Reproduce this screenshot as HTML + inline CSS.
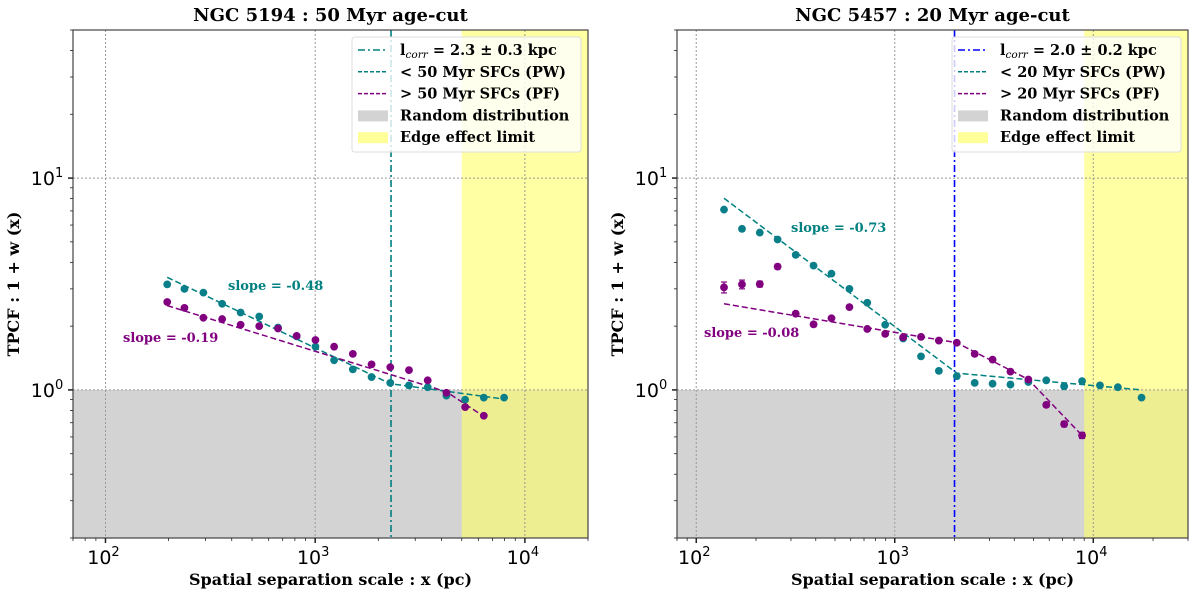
<!DOCTYPE html>
<html><head><meta charset="utf-8"><style>
body{margin:0;background:#fff;width:1200px;height:597px;overflow:hidden}
svg text{font-family:"DejaVu Serif","Liberation Serif",serif}
</style></head><body>
<svg id="fig" width="1200" height="597" xmlns="http://www.w3.org/2000/svg"></svg>
<script>
// ---- data ----
const leftX = [197,238,293,360,441,541,665,816,1003,1231,1512,1857,2281,2801,3440,4225,5190,6370,7960];
const leftPW = [3.15,3.0,2.88,2.55,2.32,2.22,1.97,1.79,1.60,1.38,1.25,1.15,1.08,1.05,1.03,0.94,0.90,0.92,0.92];
const leftPF = [2.60,2.44,2.19,2.16,2.03,2.0,1.95,1.80,1.72,1.60,1.48,1.32,1.28,1.24,1.11,0.97,0.83,0.755];
const leftFitPWIdx = [0,12,18];
const leftFitPWVal = [3.40,1.07,0.905];
const leftFitPFIdx = [0,15,17];
const leftFitPFVal = [2.5,0.98,0.75];
const rightX = [138,170,209,257,317,390,480,591,727,895,1102,1356,1668,2053,2527,3110,3827,4710,5797,7134,8780,10805,13300,17500];
const rightPW = [7.10,5.76,5.53,5.13,4.34,3.86,3.54,3.00,2.58,2.03,1.75,1.44,1.23,1.16,1.08,1.07,1.06,1.09,1.11,1.04,1.10,1.05,1.03,0.92];
const rightPF = [3.05,3.15,3.16,3.82,2.29,2.04,2.18,2.46,1.94,1.84,1.77,1.78,1.71,1.67,1.48,1.39,1.22,1.12,0.85,0.69,0.61];
const rightPFErr = [0.18,0.15,0.1,0.1,0.05,0.05,0.04,0.04,0.03,0.03,0.03,0.03,0.03,0.03,0.03,0.02,0.02,0.02,0.02,0.02,0.02];
const rightFitPWIdx = [0,13,23];
const rightFitPWVal = [8.03,1.20,1.0];
const rightFitPFIdx = [0,13,17,20];
const rightFitPFVal = [2.55,1.67,1.12,0.61];
const yTickVals = [1,10];
const yTickLabels = ["0","1"];
const xTickVals = [100,1000,10000];
const xTickLabels = ["2","3","4"];

const NS="http://www.w3.org/2000/svg";
const svg=document.getElementById('fig');
function el(tag,attrs,parent){const e=document.createElementNS(NS,tag);for(const k in attrs)e.setAttribute(k,attrs[k]);(parent||svg).appendChild(e);return e;}

function panel(cfg){
  const {x0,x1,y0,y1,xmin,xmax,ymin,ymax}=cfg;
  const g=el('g',{});
  
  
  const sx=v=>x0+(Math.log10(v)-Math.log10(xmin))/(Math.log10(xmax)-Math.log10(xmin))*(x1-x0);
  const sy=v=>y1-(Math.log10(v)-Math.log10(ymin))/(Math.log10(ymax)-Math.log10(ymin))*(y1-y0);
  const rr=el('rect',{x:x0,y:sy(1),width:x1-x0,height:y1-sy(1),fill:'#d3d3d3'},g);
  
  
  const ye=el('rect',{x:sx(cfg.edge),y:y0,width:x1-sx(cfg.edge),height:y1-y0,fill:'#ffff66','fill-opacity':0.6},g);
  
  
  xTickVals.forEach(v=>{const X=sx(v);el('line',{x1:X,x2:X,y1:y0,y2:y1,stroke:'#999','stroke-width':1,'stroke-dasharray':'2,2'},g);});
  yTickVals.forEach(v=>{const Y=sy(v);el('line',{x1:x0,x2:x1,y1:Y,y2:Y,stroke:'#999','stroke-width':1,'stroke-dasharray':'2,2'},g);});
  const vl=el('line',{x1:sx(cfg.lcorr),x2:sx(cfg.lcorr),y1:y0,y2:y1,stroke:cfg.lcolor,'stroke-width':1.6,'stroke-dasharray':'7,3,2,3'},g);
  
  
  function fit(idx,vals,xs,color,name){
    const p=el('polyline',{points:idx.map((k,i)=>sx(xs[k])+','+sy(vals[i])).join(' '),fill:'none',stroke:color,'stroke-width':1.5,'stroke-dasharray':'6,3'},g);
    
    
  }
  fit(cfg.fpwI,cfg.fpwV,cfg.xs,'#008080','pw-fit-line');
  fit(cfg.fpfI,cfg.fpfV,cfg.xs,'#800080','pf-fit-line');
  function pts(vals,color,name,err){
    vals.forEach((v,i)=>{
      if(err){const e=err[i];const X=sx(cfg.xs[i]);
        el('line',{x1:X,x2:X,y1:sy(v+e),y2:sy(Math.max(v-e,0.01)),stroke:color,'stroke-width':1.2},g);
        el('line',{x1:X-3,x2:X+3,y1:sy(v+e),y2:sy(v+e),stroke:color,'stroke-width':1.2},g);
        el('line',{x1:X-3,x2:X+3,y1:sy(v-e),y2:sy(v-e),stroke:color,'stroke-width':1.2},g);}
      const c=el('circle',{cx:sx(cfg.xs[i]),cy:sy(v),r:3.9,fill:color},g);
      
      
    });
  }
  pts(cfg.pw,'#0a7f8a','pw-point',null);
  pts(cfg.pf,'#800080','pf-point',cfg.pfErr);
  el('rect',{x:x0,y:y0,width:x1-x0,height:y1-y0,fill:'none',stroke:'#444','stroke-width':1.2},g);
  for(let d=1;d<=5;d++){for(let m=1;m<10;m++){const v=m*Math.pow(10,d);if(v<xmin||v>xmax)continue;const X=sx(v);el('line',{x1:X,x2:X,y1:y1,y2:y1+(m==1?5:3),stroke:'#222','stroke-width':m==1?1.5:0.8},g);}}
  for(let d=-1;d<=1;d++){for(let m=1;m<10;m++){const v=m*Math.pow(10,d);if(v<ymin||v>ymax)continue;const Y=sy(v);el('line',{x1:x0,x2:x0-(m==1?5:3),y1:Y,y2:Y,stroke:'#222','stroke-width':m==1?1.5:0.8},g);}}
  xTickVals.forEach((v,i)=>{const t=el('text',{x:sx(v)-2,y:y1+26,'text-anchor':'middle','font-size':19,style:'font-family:"DejaVu Sans",sans-serif'},g);t.innerHTML='10<tspan dy="-8" font-size="13">'+xTickLabels[i]+'</tspan>';
    
    });
  yTickVals.forEach((v,i)=>{const t=el('text',{x:x0-26,y:sy(v)+7,'text-anchor':'middle','font-size':19,style:'font-family:"DejaVu Sans",sans-serif'},g);t.innerHTML='10<tspan dy="-8" font-size="13">'+yTickLabels[i]+'</tspan>';
    
    });
  const tt=el('text',{x:(x0+x1)/2,y:y0-9,'text-anchor':'middle','font-size':18,'font-weight':'bold'},g);tt.textContent=cfg.title;
  
  
  const xl=el('text',{x:(x0+x1)/2,y:585,'text-anchor':'middle','font-size':16,'font-weight':'bold'},g);xl.textContent='Spatial separation scale : x (pc)';
  
  
  const yl=el('text',{x:0,y:0,'text-anchor':'middle','font-size':16,'font-weight':'bold',transform:`translate(${x0-54},${(y0+y1)/2}) rotate(-90)`},g);yl.textContent='TPCF : 1 + w (x)';
  
  
  cfg.slopes.forEach(s=>{const t=el('text',{x:s[0],y:s[1],'font-size':13,'font-weight':'bold',fill:s[3]},g);t.textContent=s[2];
    
    });
  const lx=x1-236,ly=y0+7;
  const lg=el('g',{},g);
  
  
  el('rect',{x:lx,y:ly,width:229,height:115,rx:3,fill:'#fff','fill-opacity':0.8,stroke:'#ddd'},lg);
  const rows=[
    ['line',cfg.lcolor,'7,3,2,3',cfg.lcorrText],
    ['line','#008080','4,2','< '+cfg.age+' Myr SFCs (PW)'],
    ['line','#800080','4,2','> '+cfg.age+' Myr SFCs (PF)'],
    ['rect','#d3d3d3','','Random distribution'],
    ['rect','#ffff99','','Edge effect limit']];
  rows.forEach((r,i)=>{const Y=ly+13+i*21.8;
    if(r[0]=='line')el('line',{x1:lx+6,x2:lx+36,y1:Y,y2:Y,stroke:r[1],'stroke-width':1.5,'stroke-dasharray':r[2]},lg);
    else el('rect',{x:lx+6,y:Y-5,width:30,height:11,fill:r[1]},lg);
    const t=el('text',{x:lx+48,y:Y+5,'font-size':14.5,'font-weight':'bold'},lg);
    if(i==0)t.innerHTML='l<tspan dy="3" font-size="10.5" font-style="italic" font-weight="normal">corr</tspan><tspan dy="-3"> '+r[3]+'</tspan>';else t.textContent=r[3];
    
    
  });
}
panel({name:'left-panel',x0:73,x1:588,y0:30,y1:538,xmin:70,xmax:20000,ymin:0.2,ymax:50,edge:5000,lcorr:2300,lcolor:'#008080',
  xs:leftX,pw:leftPW,pf:leftPF,pfErr:null,fpwI:leftFitPWIdx,fpwV:leftFitPWVal,fpfI:leftFitPFIdx,fpfV:leftFitPFVal,
  title:'NGC 5194 : 50 Myr age-cut',age:50,lcorrText:'= 2.3 ± 0.3 kpc',
  slopes:[[228,290,'slope = -0.48','#008080'],[123,342,'slope = -0.19','#800080']]});
panel({name:'right-panel',x0:677,x1:1188,y0:30,y1:538,xmin:80,xmax:30000,ymin:0.2,ymax:50,edge:9000,lcorr:2000,lcolor:'#0000ff',
  xs:rightX,pw:rightPW,pf:rightPF,pfErr:rightPFErr,fpwI:rightFitPWIdx,fpwV:rightFitPWVal,fpfI:rightFitPFIdx,fpfV:rightFitPFVal,
  title:'NGC 5457 : 20 Myr age-cut',age:20,lcorrText:'= 2.0 ± 0.2 kpc',
  slopes:[[791,232,'slope = -0.73','#008080'],[704,337,'slope = -0.08','#800080']]});
</script>
</body></html>
